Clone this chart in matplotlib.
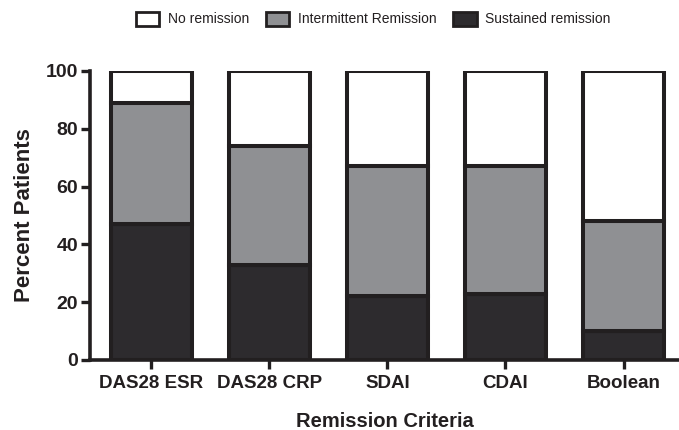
import matplotlib
matplotlib.use("Agg")
import matplotlib.pyplot as plt
import numpy as np

plt.rcParams['font.family'] = ['Liberation Sans', 'DejaVu Sans']

categories = ["DAS28 ESR", "DAS28 CRP", "SDAI", "CDAI", "Boolean"]
sustained = [47, 33, 22, 23, 10]
intermittent = [42, 41, 45, 44, 38]
no_remission = [11, 26, 33, 33, 52]
series_labels = ["No remission", "Intermittent Remission", "Sustained remission"]

dark = "#2d2b2e"
gray = "#8f9093"
white = "#ffffff"
edge = "#221f20"
lw = 2.9

fig = plt.figure(figsize=(6.79, 4.30), dpi=100)
ax = fig.add_axes([90/679, 70/430, 589/679, 289/430])

x = np.arange(len(categories))
w = 0.69
b1 = ax.bar(x, sustained, w, color=dark, edgecolor=edge, linewidth=lw, label=series_labels[2])
b2 = ax.bar(x, intermittent, w, bottom=sustained, color=gray, edgecolor=edge, linewidth=lw, label=series_labels[1])
bottom2 = np.array(sustained) + np.array(intermittent)
b3 = ax.bar(x, no_remission, w, bottom=bottom2, color=white, edgecolor=edge, linewidth=lw, label=series_labels[0])

ax.set_xlim(-0.52, 4.47)
ax.set_ylim(0, 100)
ax.set_yticks([0, 20, 40, 60, 80, 100])
ax.set_xticks(x)
ax.set_xticklabels(categories, fontsize=13.5, fontweight='bold', color='#231f20')
for lab in ax.get_yticklabels():
    lab.set_fontsize(14)
    lab.set_fontweight('bold')
    lab.set_color('#231f20')

for s in ['top', 'right']:
    ax.spines[s].set_visible(False)
for s in ['left', 'bottom']:
    ax.spines[s].set_linewidth(2.6)
    ax.spines[s].set_color(edge)
ax.tick_params(axis='both', direction='out', length=6.5, width=2.4, color=edge)
ax.tick_params(axis='x', pad=4)
ax.tick_params(axis='y', pad=2)

ax.set_ylabel("Percent Patients", fontsize=16, fontweight='bold', color='#231f20', labelpad=8)
ax.set_xlabel("Remission Criteria", fontsize=14.5, fontweight='bold', color='#231f20', labelpad=15)

handles = [b3, b2, b1]
leg = fig.legend(handles, series_labels, loc='center', bbox_to_anchor=(373/679, 1 - 19/430),
                 ncol=3, frameon=False, fontsize=10, handlelength=1.7, handleheight=1.2,
                 columnspacing=1.2, handletextpad=0.6)
for t in leg.get_texts():
    t.set_color('#231f20')
for p in leg.get_patches():
    p.set_linewidth(2.0)

fig.savefig("out.png", dpi=100)
